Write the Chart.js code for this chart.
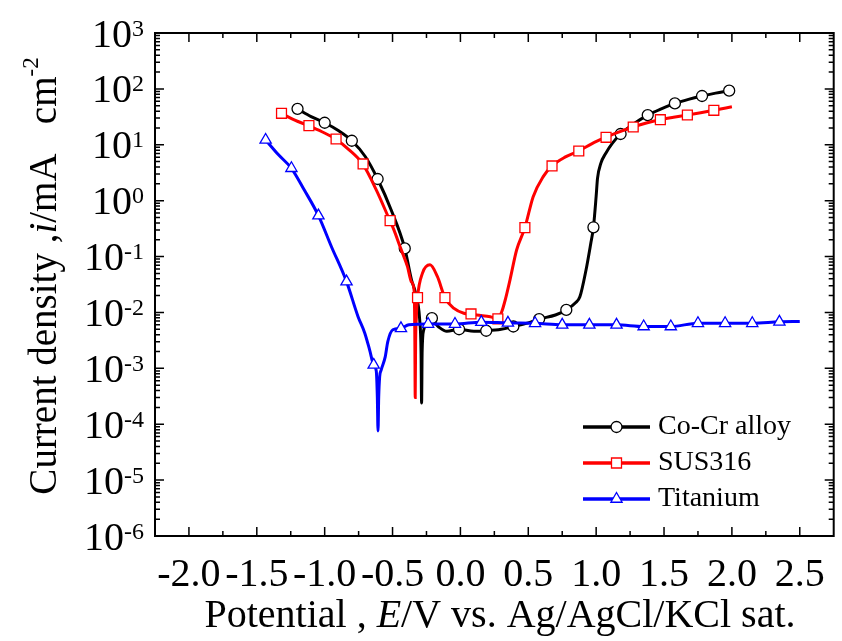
<!DOCTYPE html>
<html>
<head>
<meta charset="utf-8">
<script src="https://cdn.jsdelivr.net/npm/chart.js@4.4.1/dist/chart.umd.min.js"></script>
<style>
  body { margin: 0; background: #fff; }
  canvas { display: block; }
</style>
</head>
<body>
<canvas id="myChart" width="842" height="641"></canvas>
<script>
// Co-Cr alloy polarisation curve (E in V, i in mA/cm2)
const coCrE = [-1.20, -1.10, -1.00, -0.90, -0.80, -0.70, -0.61, -0.51, -0.41, -0.36, -0.33, -0.30, -0.29, -0.286, -0.282, -0.27, -0.24, -0.21, -0.16, -0.10, -0.01, 0.10, 0.19, 0.30, 0.39, 0.50, 0.58, 0.70, 0.78, 0.85, 0.88, 0.925, 0.96, 0.98, 1.00, 1.01, 1.035, 1.07, 1.12, 1.18, 1.28, 1.38, 1.48, 1.58, 1.68, 1.78, 1.88, 1.98];
const coCrI = [44, 32, 24.8, 18, 11.8, 6.1, 2.44, 0.68, 0.14, 0.038, 0.022, 0.0074, 0.002, 0.00024, 0.002, 0.0049, 0.0065, 0.0072, 0.0055, 0.0046, 0.005, 0.0046, 0.0047, 0.005, 0.0056, 0.0065, 0.0076, 0.009, 0.0111, 0.015, 0.019, 0.057, 0.17, 0.334, 1.2, 2.5, 4.7, 7, 10.7, 15.6, 24, 34, 44, 55, 65, 74.6, 84, 93];
const coCrMarkE = [-1.20, -1.00, -0.80, -0.61, -0.41, -0.21, -0.01, 0.19, 0.39, 0.58, 0.78, 0.98, 1.18, 1.38, 1.58, 1.78, 1.98];
const coCrMarkI = [44, 24.8, 11.8, 2.44, 0.14, 0.0079, 0.005, 0.0047, 0.0056, 0.0076, 0.0111, 0.334, 15.6, 34, 55, 74.6, 93];

// SUS316
const susE = [-1.32, -1.22, -1.12, -1.02, -0.92, -0.82, -0.72, -0.62, -0.52, -0.49, -0.44, -0.39, -0.36, -0.34, -0.336, -0.333, -0.33, -0.325, -0.316, -0.28, -0.224, -0.17, -0.114, -0.05, 0.025, 0.078, 0.12, 0.22, 0.276, 0.305, 0.33, 0.365, 0.414, 0.475, 0.536, 0.61, 0.675, 0.77, 0.872, 0.97, 1.073, 1.17, 1.273, 1.37, 1.473, 1.57, 1.672, 1.77, 1.867, 2.0];
const susI = [36.6, 27.6, 22, 17.1, 12.7, 8.1, 4.54, 1.56, 0.44, 0.3, 0.14, 0.066, 0.035, 0.023, 0.004, 0.0003, 0.003, 0.008, 0.0184, 0.05, 0.071, 0.044, 0.0184, 0.0119, 0.0097, 0.0094, 0.009, 0.0084, 0.0077, 0.0104, 0.0167, 0.038, 0.131, 0.329, 1.18, 2.69, 4.18, 6, 7.74, 10.5, 13.6, 17, 20.8, 24.5, 28.1, 31, 34.1, 37.5, 41.4, 48];
const susMarkE = [-1.318, -1.116, -0.916, -0.717, -0.518, -0.316, -0.114, 0.078, 0.276, 0.475, 0.675, 0.872, 1.073, 1.273, 1.473, 1.672, 1.867];
const susMarkI = [36.6, 22, 12.7, 4.54, 0.44, 0.0184, 0.0184, 0.0094, 0.0077, 0.329, 4.18, 7.74, 13.6, 20.8, 28.1, 34.1, 41.4];

// Titanium
const tiE = [-1.435, -1.34, -1.245, -1.15, -1.046, -0.95, -0.839, -0.754, -0.705, -0.668, -0.639, -0.62, -0.612, -0.607, -0.602, -0.595, -0.584, -0.554, -0.535, -0.498, -0.438, -0.38, -0.238, -0.04, 0.154, 0.35, 0.55, 0.75, 0.95, 1.15, 1.35, 1.55, 1.75, 1.95, 2.15, 2.35, 2.5];
const tiI = [12.2, 6.6, 3.8, 1.55, 0.54, 0.15, 0.0356, 0.0084, 0.0043, 0.0021, 0.00115, 0.0009, 0.0003, 0.000076, 0.0003, 0.0007, 0.00093, 0.0016, 0.003, 0.0049, 0.0052, 0.006, 0.0062, 0.0062, 0.0067, 0.0065, 0.0064, 0.006, 0.006, 0.006, 0.0056, 0.0056, 0.0064, 0.0064, 0.0064, 0.0068, 0.0069];
const tiMarkE = [-1.435, -1.245, -1.046, -0.839, -0.639, -0.438, -0.238, -0.04, 0.154, 0.35, 0.55, 0.75, 0.95, 1.15, 1.35, 1.55, 1.75, 1.95, 2.15, 2.35];
const tiMarkI = [12.2, 3.8, 0.54, 0.0356, 0.00115, 0.0052, 0.0062, 0.0062, 0.0067, 0.0065, 0.0064, 0.006, 0.006, 0.006, 0.0056, 0.0056, 0.0064, 0.0064, 0.0064, 0.0068];

// axes
const xTickLabels = ['-2.0', '-1.5', '-1.0', '-0.5', '0.0', '0.5', '1.0', '1.5', '2.0', '2.5'];
const xMinorTicks = [-1.75, -1.25, -0.75, -0.25, 0.25, 0.75, 1.25, 1.75, 2.25];
const yExponents = [-6, -5, -4, -3, -2, -1, 0, 1, 2, 3];

const seriesNames = ['Co-Cr alloy', 'SUS316', 'Titanium'];
const seriesColors = ['#000000', '#ff0000', '#0000ff'];
const seriesMarkers = ['circle', 'rect', 'triangle'];

const FONT = '"Liberation Serif", "Times New Roman", serif';

function pts(xs, ys) {
  return xs.map((x, k) => ({ x: x, y: ys[k] }));
}

function lineSet(xs, ys, color, order) {
  return {
    data: pts(xs, ys),
    borderColor: color,
    borderWidth: 3,
    pointRadius: 0,
    cubicInterpolationMode: 'monotone',
    order: order
  };
}

function markSet(xs, ys, color, style, r, order) {
  return {
    data: pts(xs, ys),
    showLine: false,
    pointStyle: style,
    pointRadius: r,
    pointBorderWidth: 1.3,
    pointBorderColor: color,
    pointBackgroundColor: '#fff',
    order: order
  };
}

function drawMarker(ctx, style, x, y, color) {
  ctx.save();
  ctx.fillStyle = '#fff';
  ctx.strokeStyle = color;
  ctx.lineWidth = 1.3;
  ctx.beginPath();
  if (style === 'circle') {
    ctx.arc(x, y, 5.5, 0, Math.PI * 2);
  } else if (style === 'rect') {
    ctx.rect(x - 5, y - 5, 10, 10);
  } else {
    const r = 6.5;
    ctx.moveTo(x, y - r);
    ctx.lineTo(x + r * 0.866, y + r / 2);
    ctx.lineTo(x - r * 0.866, y + r / 2);
    ctx.closePath();
  }
  ctx.fill();
  ctx.stroke();
  ctx.restore();
}

// draws a row of text pieces, each with its own font, starting at x
function drawPieces(ctx, pieces, x, y) {
  pieces.forEach(p => {
    ctx.font = p.font;
    ctx.fillText(p.t, x, y + (p.dy || 0));
    x += ctx.measureText(p.t).width;
  });
}
function piecesWidth(ctx, pieces) {
  let w = 0;
  pieces.forEach(p => { ctx.font = p.font; w += ctx.measureText(p.t).width; });
  return w;
}

const axesPlugin = {
  id: 'axesPlugin',
  afterDraw(chart) {
    const ctx = chart.ctx;
    const a = chart.chartArea;
    const xs = chart.scales.x, ys = chart.scales.y;
    ctx.save();
    ctx.strokeStyle = '#000';
    ctx.fillStyle = '#000';

    // frame
    ctx.lineWidth = 2;
    ctx.strokeRect(a.left, a.top, a.right - a.left, a.bottom - a.top);

    // x ticks, inward on bottom and top
    ctx.lineWidth = 1.5;
    ctx.beginPath();
    xTickLabels.forEach(t => {
      const p = xs.getPixelForValue(parseFloat(t));
      ctx.moveTo(p, a.bottom); ctx.lineTo(p, a.bottom - 9);
      ctx.moveTo(p, a.top); ctx.lineTo(p, a.top + 9);
    });
    xMinorTicks.forEach(v => {
      const p = xs.getPixelForValue(v);
      ctx.moveTo(p, a.bottom); ctx.lineTo(p, a.bottom - 5);
      ctx.moveTo(p, a.top); ctx.lineTo(p, a.top + 5);
    });
    // y ticks, inward on left and right
    yExponents.forEach(e => {
      const p = ys.getPixelForValue(Math.pow(10, e));
      ctx.moveTo(a.left, p); ctx.lineTo(a.left + 9, p);
      ctx.moveTo(a.right, p); ctx.lineTo(a.right - 9, p);
      if (e < 3) {
        for (let m = 2; m <= 9; m++) {
          const q = ys.getPixelForValue(m * Math.pow(10, e));
          ctx.moveTo(a.left, q); ctx.lineTo(a.left + 5, q);
          ctx.moveTo(a.right, q); ctx.lineTo(a.right - 5, q);
        }
      }
    });
    ctx.stroke();

    // x tick labels
    ctx.font = '40px ' + FONT;
    ctx.textAlign = 'center';
    ctx.textBaseline = 'alphabetic';
    xTickLabels.forEach(t => {
      ctx.fillText(t, xs.getPixelForValue(parseFloat(t)), 586);
    });

    // y tick labels 10^n
    ctx.textAlign = 'left';
    yExponents.forEach(e => {
      const p = ys.getPixelForValue(Math.pow(10, e));
      const ex = String(e);
      ctx.font = '24px ' + FONT;
      const ew = ctx.measureText(ex).width;
      ctx.font = '40px ' + FONT;
      const bw = ctx.measureText('10').width;
      ctx.fillText('10', 144 - ew - bw, p + 13.5);
      ctx.font = '24px ' + FONT;
      ctx.fillText(ex, 144 - ew, p + 2.5);
    });

    // x title
    const xt = [
      { t: 'Potential , ', font: '40px ' + FONT },
      { t: 'E', font: 'italic 40px ' + FONT },
      { t: '/V vs. Ag/AgCl/KCl sat.', font: '40px ' + FONT }
    ];
    drawPieces(ctx, xt, 500 - piecesWidth(ctx, xt) / 2, 627);

    // y title, rotated
    const yt = [
      { t: 'Current density ,', font: '39px ' + FONT },
      { t: 'i', font: 'italic 39px ' + FONT },
      { t: '/mA   cm', font: '39px ' + FONT },
      { t: '-2', font: '23px ' + FONT, dy: -18 }
    ];
    ctx.save();
    ctx.translate(56, 276);
    ctx.rotate(-Math.PI / 2);
    drawPieces(ctx, yt, -piecesWidth(ctx, yt) / 2, 0);
    ctx.restore();

    // legend
    const rowsY = [427, 463, 499];
    seriesNames.forEach((name, k) => {
      const y = rowsY[k];
      ctx.strokeStyle = seriesColors[k];
      ctx.lineWidth = 3.5;
      ctx.beginPath();
      ctx.moveTo(583, y); ctx.lineTo(650, y);
      ctx.stroke();
      drawMarker(ctx, seriesMarkers[k], 616.5, y, seriesColors[k]);
      ctx.fillStyle = '#000';
      ctx.font = '28px ' + FONT;
      ctx.textBaseline = 'middle';
      ctx.fillText(name, 658, y);
    });
    ctx.restore();
  }
};

const ctx = document.getElementById('myChart').getContext('2d');
const chart = new Chart(ctx, {
  type: 'line',
  data: {
    datasets: [
      lineSet(coCrE, coCrI, seriesColors[0], 5),
      markSet(coCrMarkE, coCrMarkI, seriesColors[0], 'circle', 5.5, 4),
      lineSet(susE, susI, seriesColors[1], 3),
      markSet(susMarkE, susMarkI, seriesColors[1], 'rect', 7, 2),
      lineSet(tiE, tiI, seriesColors[2], 1),
      markSet(tiMarkE, tiMarkI, seriesColors[2], 'triangle', 6.5, 0)
    ]
  },
  options: {
    responsive: false,
    animation: false,
    layout: { padding: { left: 155, top: 33, right: 2, bottom: 105 } },
    plugins: { legend: { display: false }, tooltip: { enabled: false } },
    scales: {
      x: { type: 'linear', min: -2.25, max: 2.75, display: false },
      y: { type: 'logarithmic', min: 1e-6, max: 1e3, display: false }
    }
  },
  plugins: [axesPlugin]
});
</script>
</body>
</html>
